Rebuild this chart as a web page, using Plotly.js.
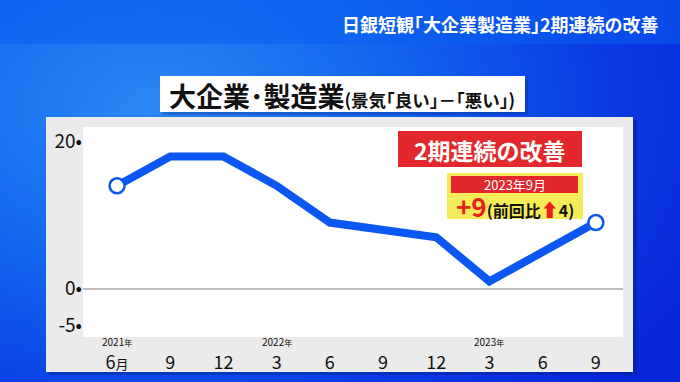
<!DOCTYPE html>
<html><head><meta charset="utf-8">
<script src="https://cdn.plot.ly/plotly-3.0.1.min.js"></script>
<style>
html,body{margin:0;padding:0;}
#chart{width:680px;height:382px;background:radial-gradient(ellipse 90% 110% at 22% 28%, #2a88f3 0%, #1266ee 40%, #0a3ae4 75%, #0826d8 100%);}
</style></head>
<body><div id="chart"></div>
<script>
// ---- data ----
const periods = ["2021-06","2021-09","2021-12","2022-03","2022-06","2022-09","2022-12","2023-03","2023-06","2023-09"];
const tickLabels = ["6<span style='font-size:13px'>月</span>","9","12","3","6","9","12","3","6","9"];
const yearLabels = ["2021年","","","2022年","","","","2023年","",""];
const diValues = [14, 18, 18, 14, 9, 8, 7, 1, 5, 9];
const yTickVals = [20, 0, -5];
const yTickText = ["20•", "0•", "-5•"];

const banner = "日銀短観｢大企業製造業｣2期連続の改善";
const titleMain = "大企業･製造業";
const titleSub = "(景気｢良い｣－｢悪い｣)";
const badge = "2期連続の改善";
const latestLabel = "2023年9月";
const latestValue = "+9";
const changeText = ["(前回比", "⬆", "4)"];

// ---- layout helpers (pixel -> paper) ----
const L=83, R=57, T=127, B=45, W=680, H=382;
const PW=W-L-R, PH=H-T-B;
const px = x => (x-L)/PW;
const py = y => (H-B-y)/PH;
const rect = (x0,y0,x1,y1,fill) => ({type:'rect',xref:'paper',yref:'paper',x0:px(x0),x1:px(x1),y0:py(y1),y1:py(y0),fillcolor:fill,line:{width:0},layer:'below'});

const FONT = "Noto Sans CJK JP, Noto Sans, sans-serif";
const xIdx = periods.map((p,i)=>i);
const endIdx = [0, diValues.length-1];

const lineTrace = {
  x: xIdx, y: diValues, type:'scatter', mode:'lines',
  line:{color:'#0b57f2', width:8, shape:'linear'},
  hoverinfo:'skip', cliponaxis:false
};
const endTrace = {
  x: endIdx.map(i=>xIdx[i]), y: endIdx.map(i=>diValues[i]), type:'scatter', mode:'markers',
  marker:{size:15, color:'#ffffff', opacity:1, line:{color:'#0b57f2', width:2.5}},
  hoverinfo:'skip', cliponaxis:false
};

const shapes = [
  rect(0,0,680,44,'rgba(10,95,240,0.55)'),
  rect(163,79,528,115,'rgba(0,20,110,0.25)'),
  rect(160,76,525,112,'#ffffff'),
  rect(49,120,637,375,'rgba(0,20,100,0.3)'),
  rect(46,117,633,372,'#ebebeb'),
  rect(L,T,W-R,H-B,'#ffffff'),
  rect(398,131,582,167,'#e2282c'),
  rect(447,173,583,219,'#f6ec5a'),
  rect(451,176,578,193,'#e2282c')
];

const annotations = [
  {text:banner, x:px(500), y:py(24), xref:'paper', yref:'paper', showarrow:false, xanchor:'center', yanchor:'middle',
   font:{family:FONT, size:18, color:'#ffffff', weight:700}},
  {text:"<span style='font-size:27px'>"+titleMain+"</span><span style='font-size:17.5px'>"+titleSub+"</span>", x:px(167), y:py(95), xref:'paper', yref:'paper', showarrow:false, xanchor:'left', yanchor:'middle',
   font:{family:FONT, size:27, color:'#111111', weight:700}},
  {text:badge, x:px(490), y:py(150), xref:'paper', yref:'paper', showarrow:false, xanchor:'center', yanchor:'middle',
   font:{family:FONT, size:23, color:'#ffffff', weight:700}},
  {text:latestLabel, x:px(514.5), y:py(184.5), xref:'paper', yref:'paper', showarrow:false, xanchor:'center', yanchor:'middle',
   font:{family:FONT, size:13, color:'#ffffff'}},
  {text:"<span style='color:#e8201e;font-size:26px'>"+latestValue+"</span>"+changeText[0]+"<span style='color:#e8201e;font-size:18px'>"+changeText[1]+"</span>"+changeText[2], x:px(515), y:py(205), xref:'paper', yref:'paper', showarrow:false, xanchor:'center', yanchor:'middle',
   font:{family:FONT, size:16, color:'#111111', weight:700}}
];
yearLabels.forEach((t,i)=>{
  if(!t) return;
  annotations.push({text:t.slice(0,-1)+"<span style='font-size:8px'>"+t.slice(-1)+"</span>", x:xIdx[i], y:py(341), xref:'x', yref:'paper', showarrow:false, xanchor:'center', yanchor:'middle',
    font:{family:FONT, size:10, color:'#111111'}});
});

const layout = {
  width:W, height:H, margin:{l:L, r:R, t:T, b:B, pad:0},
  paper_bgcolor:'rgba(0,0,0,0)', plot_bgcolor:'rgba(0,0,0,0)',
  showlegend:false,
  xaxis:{range:[-0.64, 9.51], tickvals:xIdx, ticktext:tickLabels, showgrid:false, zeroline:false, showline:false, ticks:'',
    tickfont:{family:FONT, size:18, color:'#111111'}, ticklabelstandoff:13, fixedrange:true},
  yaxis:{range:[-6.57, 22.0], tickvals:yTickVals, ticktext:yTickText, showgrid:false, zeroline:true, zerolinecolor:'#bdbdbd', zerolinewidth:2,
    showline:false, ticks:'', tickfont:{family:FONT, size:19, color:'#111111'}, ticklabelstandoff:0, fixedrange:true},
  shapes:shapes, annotations:annotations
};

Plotly.newPlot('chart',[lineTrace, endTrace],layout,{staticPlot:true, displayModeBar:false});
</script>
</body></html>
